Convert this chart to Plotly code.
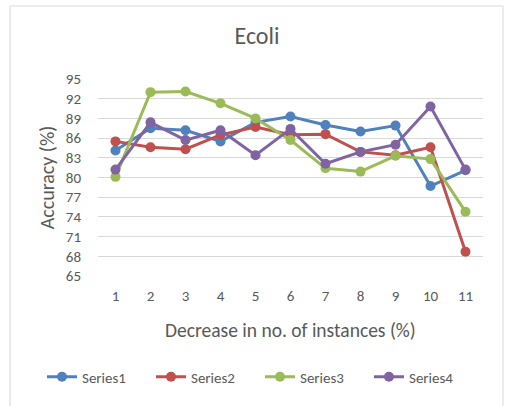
import plotly.graph_objects as go

categories = ["1", "2", "3", "4", "5", "6", "7", "8", "9", "10", "11"]
series1 = [84.1, 87.5, 87.2, 85.5, 88.4, 89.3, 88.0, 87.0, 87.9, 78.7, 81.1]
series2 = [85.5, 84.6, 84.3, 86.5, 87.7, 86.5, 86.6, 83.9, 83.4, 84.6, 68.7]
series3 = [80.1, 93.0, 93.1, 91.3, 89.0, 85.7, 81.4, 80.9, 83.3, 82.8, 74.8]
series4 = [81.2, 88.4, 85.7, 87.2, 83.4, 87.4, 82.1, 83.9, 85.0, 90.8, 81.2]
series_names = ["Series1", "Series2", "Series3", "Series4"]
colors = ["#4F81BD", "#C0504D", "#9BBB59", "#8064A2"]
yticks = [65, 68, 71, 74, 77, 80, 83, 86, 89, 92, 95]

FONT = "Carlito, Calibri, Lato, sans-serif"
fig = go.Figure()
for name, vals, c in zip(series_names, [series1, series2, series3, series4], colors):
    fig.add_trace(go.Scatter(
        x=categories, y=vals, name=name, mode="lines+markers",
        line=dict(color=c, width=3),
        marker=dict(color=c, size=10, symbol="circle"),
    ))

fig.update_layout(
    width=509, height=406,
    margin=dict(l=98, r=26, t=79, b=130),
    paper_bgcolor="white", plot_bgcolor="white",
    font=dict(family=FONT, color="#595959", size=14),
    title=dict(text="Ecoli", x=(257 - 98) / 385, xref="paper", xanchor="center",
               y=1 - 36 / 406, yanchor="middle", yref="container",
               font=dict(size=24, color="#595959", family=FONT)),
    showlegend=True,
    legend=dict(orientation="h", x=(42 - 98) / 385, xanchor="left",
                y=(276 - 377) / 197, yanchor="middle",
                font=dict(size=15, color="#595959", family=FONT),
                entrywidth=64, tracegroupgap=0),
    xaxis=dict(type="category", range=[-0.5, 10.5], showgrid=False,
               showline=False, ticks="", tickfont=dict(size=15),
               zeroline=False, ticklabelstandoff=9),
    yaxis=dict(range=[65, 95], tickvals=yticks, showgrid=True,
               gridcolor="#D9D9D9", gridwidth=1, showline=False, ticks="",
               zeroline=False, tickfont=dict(size=15), ticklabelstandoff=16,
               title=dict(text="Accuracy (%)", font=dict(size=20, color="#595959"), standoff=5)),
    annotations=[dict(text="Decrease in no. of instances (%)", xref="paper", yref="paper",
                      x=0.5, y=(276 - 330) / 197, showarrow=False,
                      xanchor="center", yanchor="middle",
                      font=dict(size=19.5, color="#595959", family=FONT))],
    shapes=[dict(type="rect", xref="paper", yref="paper",
                 x0=(10 - 98) / 385, x1=(503 - 98) / 385,
                 y0=-0.8, y1=(276 - 6) / 197,
                 line=dict(color="#D9D9D9", width=1), layer="below")],
)
fig.write_html("out.html")
